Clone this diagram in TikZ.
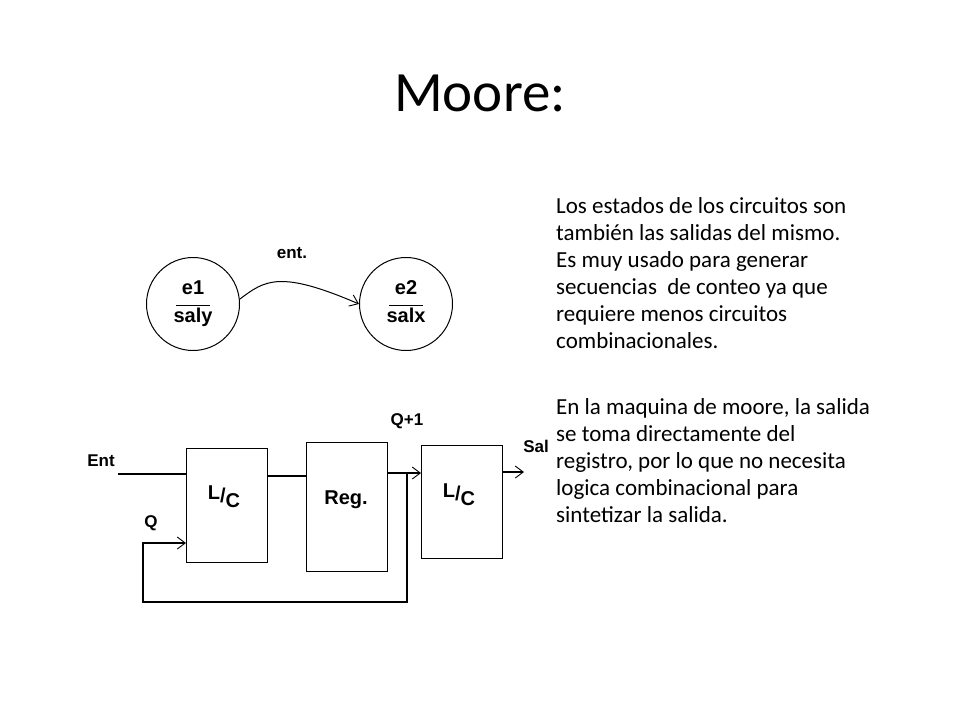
\documentclass[tikz,border=0pt]{standalone}
\usepackage{fontspec}
\setmainfont{Carlito}
\newfontfamily\arialf{Liberation Sans}
\usetikzlibrary{arrows.meta}
\begin{document}
\begin{tikzpicture}[x=1pt,y=-1pt,
  lbl/.style={font=\arialf\bfseries\fontsize{17}{19}\selectfont, inner sep=0},
  big/.style={font=\arialf\bfseries\fontsize{20}{22}\selectfont, inner sep=0},
  blk/.style={draw, line width=1.3pt, minimum width=81pt, anchor=north west, inner sep=0},
  st/.style={draw, circle, line width=1pt, minimum size=93pt, inner sep=0},
  wire/.style={line width=1.3pt},
  arr/.style={wire, -{Straight Barb[length=8pt,width=12pt,line width=0.9pt]}},
  txt/.style={anchor=base west, inner sep=0, font=\fontsize{23}{26}\selectfont}]
\useasboundingbox (0,0) rectangle (960,720);
\node[font=\fontsize{57}{64}\selectfont] (title) at (480,93) {Moore:};
% state diagram
\node[st, big] (e1) at (193,304) {\begin{tabular}{@{}c@{}}e1\\[-10pt]\rule{34pt}{1.3pt}\\[-6pt]saly\end{tabular}};
\node[st, big] (e2) at (406,304) {\begin{tabular}{@{}c@{}}e2\\[-10pt]\rule{34pt}{1.3pt}\\[-6pt]salx\end{tabular}};
\draw[arr, line width=1pt] (e1.east) ++(0,-5) coordinate (s1) .. controls (265,280) and (280,270) .. (e2.west);
\node[lbl] (ent) at (292,253) {ent.};
% block diagram
\node[blk, minimum height=114pt] (b1) at (186,448) {};
\node[big] (b1t) at (224,497) {L\raisebox{-3pt}{/}\raisebox{-8pt}{C}};
\node[blk, minimum height=129pt] (reg) at (306,442) {};
\node[big] (regt) at (346,500) {Reg.};
\node[blk, minimum height=113pt] (b3) at (421,445) {};
\node[big] (b3t) at (459,495) {L\raisebox{-3pt}{/}\raisebox{-8pt}{C}};
\node[lbl] (entl) at (101,461) {Ent};
\node[lbl] (ql) at (151,523) {Q};
\node[lbl] (q1l) at (407,421) {Q+1};
\node[lbl] (sall) at (536,446) {Sal};
\coordinate (inA) at (118,474);
\coordinate (inB) at (186,474);
\draw[wire] (inA) -- (inB);
\draw[wire] (267,476) -- (306,476);
\coordinate (r1) at (387,473);
\coordinate (r2) at (421,473);
\draw[arr] (r1) -- (r2);
\coordinate (fb) at (407,473);
\coordinate (q2) at (186,543);
\draw[arr] (fb) -- (407,602) -- (143,602) -- (143,543) -- (q2);
\coordinate (o1) at (502,472);
\coordinate (o2) at (524,472);
\draw[arr] (o1) -- (o2);
% text
\node[txt] (t1) at (556,213) {Los estados de los circuitos son};
\node[txt] (t2) at (556,240) {también las salidas del mismo.};
\node[txt] (t3) at (556,267) {Es muy usado para generar};
\node[txt] (t4) at (556,294) {secuencias\ \ de conteo ya que};
\node[txt] (t5) at (556,321) {requiere menos circuitos};
\node[txt] (t6) at (556,348) {combinacionales.};
\node[txt] (t7) at (556,414) {En la maquina de moore, la salida};
\node[txt] (t8) at (556,441) {se toma directamente del};
\node[txt] (t9) at (556,468) {registro, por lo que no necesita};
\node[txt] (t10) at (556,495) {logica combinacional para};
\node[txt] (t11) at (556,522) {sintetizar la salida.};
\end{tikzpicture}
\end{document}
